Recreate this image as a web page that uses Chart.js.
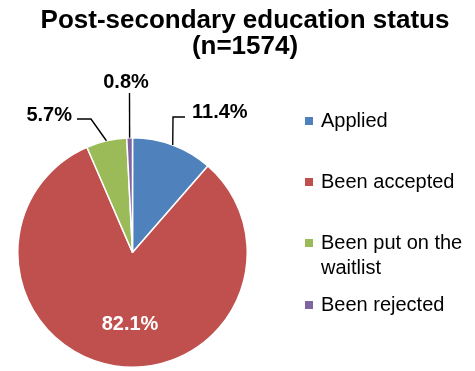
<!DOCTYPE html>
<html>
<head>
<meta charset="utf-8">
<script src="https://cdn.jsdelivr.net/npm/chart.js@4/dist/chart.umd.min.js"></script>
<style>
  html, body { margin: 0; padding: 0; background: #fff; }
  #wrap { width: 475px; height: 371px; }
</style>
</head>
<body>
<div id="wrap"><canvas id="c" width="475" height="371"></canvas></div>
<script>
// ---- data ----
const titleLines = ['Post-secondary education status', '(n=1574)'];
const categories = ['Applied', 'Been accepted', 'Been put on the waitlist', 'Been rejected'];
const legendLines = [['Applied'], ['Been accepted'], ['Been put on the', 'waitlist'], ['Been rejected']];
const values = [11.4, 82.1, 5.7, 0.8];
const valueLabels = ['11.4%', '82.1%', '5.7%', '0.8%'];
const colors = ['#4F81BD', '#C0504D', '#9BBB59', '#8064A2'];

// ---- layout (positions / styles) ----
const FONT = '"Liberation Sans", Arial, sans-serif';
const titleLayout = [{ x: 245, y: 28 }, { x: 245, y: 54 }];
const legendLayout = { boxX: 305, boxSize: 8, textX: 321, rows: [127, 188, 249, 311], lineH: 25 };
// label layout: text anchor + leader-line elbow points (the arc end is computed from the chart)
const labelLayout = [
  { tx: 192, ty: 118, align: 'left', color: '#000', elbow: [[185, 117], [173, 117]] },
  { tx: 130, ty: 330, align: 'center', color: '#fff', elbow: null },
  { tx: 72, ty: 121, align: 'right', color: '#000', elbow: [[77, 119], [91, 119]] },
  { tx: 126, ty: 88, align: 'center', color: '#000', elbow: [[129.5, 93]] }
];

const decorPlugin = {
  id: 'decor',
  afterDraw(chart) {
    const ctx = chart.ctx;
    ctx.save();
    // title
    ctx.fillStyle = '#000';
    ctx.font = 'bold 26px ' + FONT;
    ctx.textAlign = 'center';
    ctx.textBaseline = 'alphabetic';
    titleLines.forEach((t, i) => ctx.fillText(t, titleLayout[i].x, titleLayout[i].y));

    // legend
    ctx.font = '20px ' + FONT;
    ctx.textAlign = 'left';
    legendLines.forEach((lines, i) => {
      const y = legendLayout.rows[i];
      ctx.fillStyle = colors[i];
      ctx.fillRect(legendLayout.boxX, y - 10, legendLayout.boxSize, legendLayout.boxSize);
      ctx.fillStyle = '#000';
      lines.forEach((ln, j) => ctx.fillText(ln, legendLayout.textX, y + j * legendLayout.lineH));
    });

    // data labels with leader lines
    const meta = chart.getDatasetMeta(0);
    meta.data.forEach((arc, i) => {
      const L = labelLayout[i];
      if (L.elbow) {
        const mid = (arc.startAngle + arc.endAngle) / 2;
        const ax = arc.x + Math.cos(mid) * arc.outerRadius;
        const ay = arc.y + Math.sin(mid) * arc.outerRadius;
        ctx.beginPath();
        ctx.strokeStyle = '#000';
        ctx.lineWidth = 1.4;
        ctx.moveTo(L.elbow[0][0], L.elbow[0][1]);
        for (let k = 1; k < L.elbow.length; k++) ctx.lineTo(L.elbow[k][0], L.elbow[k][1]);
        ctx.lineTo(ax, ay);
        ctx.stroke();
      }
      ctx.fillStyle = L.color;
      ctx.font = 'bold 20px ' + FONT;
      ctx.textAlign = L.align;
      ctx.fillText(valueLabels[i], L.tx, L.ty);
    });
    ctx.restore();
  }
};

new Chart(document.getElementById('c'), {
  type: 'pie',
  data: {
    labels: categories,
    datasets: [{
      data: values,
      backgroundColor: colors,
      borderColor: '#ffffff',
      borderWidth: 1.5,
      hoverOffset: 0,
      offset: 0
    }]
  },
  options: {
    responsive: false,
    animation: false,
    layout: { padding: { left: 17, right: 227, top: 137, bottom: 3 } },
    plugins: {
      legend: { display: false },
      title: { display: false },
      tooltip: { enabled: false }
    }
  },
  plugins: [decorPlugin]
});
</script>
</body>
</html>
